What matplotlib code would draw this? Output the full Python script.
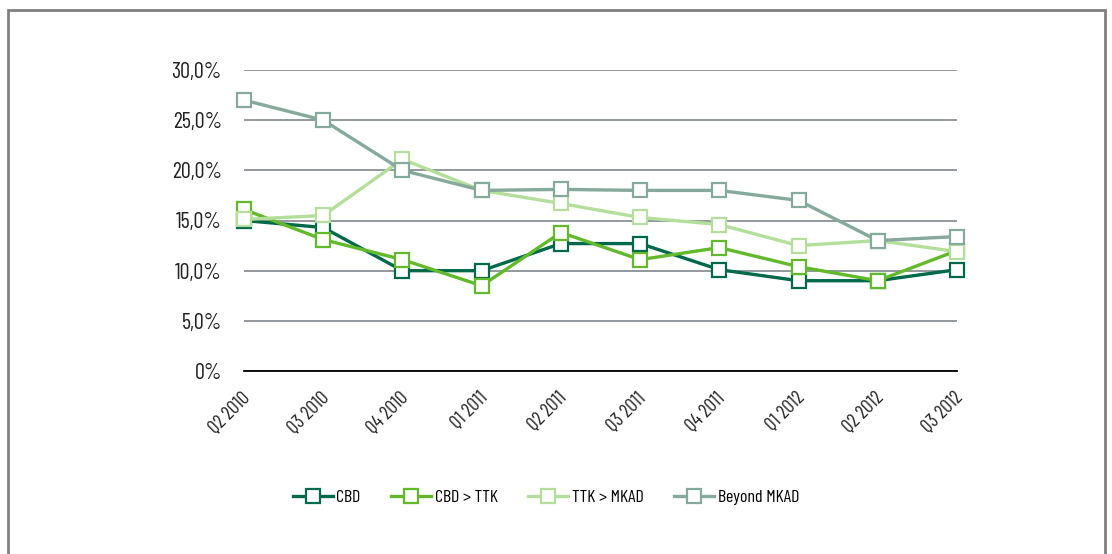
import matplotlib
matplotlib.use('Agg')
import matplotlib.pyplot as plt
from matplotlib.ticker import FuncFormatter
from matplotlib.patches import Rectangle
from matplotlib.transforms import ScaledTranslation

quarters = ['Q2 2010', 'Q3 2010', 'Q4 2010', 'Q1 2011', 'Q2 2011',
            'Q3 2011', 'Q4 2011', 'Q1 2012', 'Q2 2012', 'Q3 2012']
cbd = [15.0, 14.3, 10.0, 10.0, 12.7, 12.7, 10.1, 9.0, 9.0, 10.1]
cbd_ttk = [16.1, 13.1, 11.1, 8.5, 13.8, 11.1, 12.3, 10.4, 9.0, 12.0]
ttk_mkad = [15.1, 15.5, 21.1, 18.0, 16.7, 15.3, 14.6, 12.5, 13.0, 11.9]
beyond = [27.0, 25.0, 20.0, 18.0, 18.1, 18.0, 18.0, 17.0, 13.0, 13.4]

names = ['CBD', 'CBD > TTK', 'TTK > MKAD', 'Beyond MKAD']
colors = ['#00694a', '#62b92c', '#b4df9b', '#85a99a']

plt.rcParams['font.family'] = ['Barlow Condensed', 'DejaVu Sans']

fig = plt.figure(figsize=(11.12, 5.54), dpi=100)
fig.patches.append(Rectangle((8/1112, -0.1), 1097/1112, 1.1 - 10/554,
                             transform=fig.transFigure, fill=False,
                             edgecolor='#808080', linewidth=2))
ax = fig.add_axes([244/1112, 1 - 371/554, 713/1112, 301/554])

x = range(len(quarters))
for series, name, c in zip([cbd, cbd_ttk, ttk_mkad, beyond], names, colors):
    ax.plot(x, series, color=c, lw=2.4, marker='s', markersize=10,
            markerfacecolor='white', markeredgecolor=c, markeredgewidth=1.6,
            label=name, clip_on=False, zorder=3)

ax.set_xlim(0, 9)
ax.set_ylim(0, 30)
ax.set_yticks([0, 5, 10, 15, 20, 25, 30])
ax.yaxis.set_major_formatter(FuncFormatter(
    lambda v, p: '0%' if v == 0 else ('%.1f%%' % v).replace('.', ',')))
ax.set_xticks(list(x))
ax.set_xticklabels(quarters, rotation=45, ha='right', rotation_mode='anchor')
ax.tick_params(axis='both', length=0, colors='#222222')
ax.tick_params(axis='y', pad=16, labelsize=16)
ax.tick_params(axis='x', pad=13, labelsize=14)
for lab in ax.get_xticklabels():
    lab.set_transform(lab.get_transform() +
                      ScaledTranslation(-0.03, 0, fig.dpi_scale_trans))

ax.grid(axis='y', color='#8a9096', lw=1.3)
ax.set_axisbelow(True)
for s in ['top', 'right', 'left']:
    ax.spines[s].set_visible(False)
ax.spines['bottom'].set_color('black')
ax.spines['bottom'].set_linewidth(1.3)

ax.legend(loc='center', bbox_to_anchor=(546/1112, 1 - 497/554),
          bbox_transform=fig.transFigure, ncol=4, frameon=False,
          fontsize=13, handlelength=2.2, columnspacing=1.7, handletextpad=0.2,
          markerscale=1.0)

fig.savefig('out.png', dpi=100)
